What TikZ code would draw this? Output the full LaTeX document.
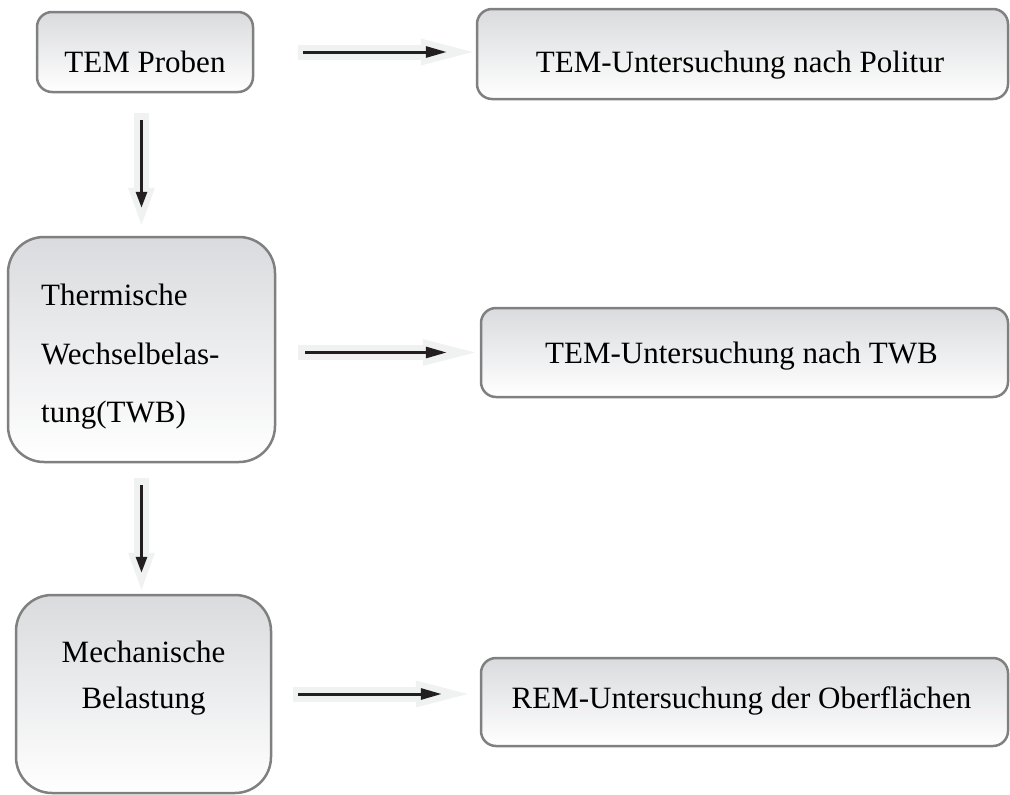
\documentclass[tikz,border=0pt]{standalone}
\usepackage{fontspec}
\setmainfont{Liberation Serif}
\usetikzlibrary{arrows.meta}

\definecolor{boxedge}{RGB}{128,128,128}
\definecolor{boxtop}{RGB}{218,219,222}
\definecolor{glowgrey}{RGB}{240,241,241}
\definecolor{ink}{RGB}{35,31,32}

\begin{document}
\begin{tikzpicture}[x=1pt, y=-1pt,
	box/.style={draw=boxedge, line width=2.5pt, top color=boxtop, bottom color=white},
	txt/.style={font=\fontsize{31}{37}\selectfont, inner sep=0pt},
	backarrow/.style={draw=glowgrey, line width=15pt, -{Triangle[length=#1, width=27pt, line width=0pt]}},
	frontarrow/.style={draw=ink, line width=3pt, -{Triangle[length=#1, width=11pt]}}]
\useasboundingbox (0,0) rectangle (1010,795);

% boxes: name/x/y/width/height/radius
\foreach \n/\x/\y/\w/\h/\rad in {
	probe/145/52/216/80/15,polish/742.5/54/531/90/15%
	,twb/141.5/349.5/267/225/36,temtwb/744.5/352.5/527/89/15%
	,mech/143.5/694/255/198/36,rem/744.5/702/527/88/15%
}{
	\node[box, rounded corners=\rad pt, minimum width=\w pt, minimum height=\h pt] (\n) at (\x,\y) {};
}

% texts: name/x/y/anchor/text
\foreach \n/\x/\y/\a/\t in {
	probetxt/145/72/base/TEM Proben,polishtxt/740/72/base/TEM-Untersuchung nach Politur%
	,twbA/41/305/base west/Thermische,twbB/41/364/base west/Wechselbelas-,twbC/41/422/base west/tung(TWB)%
	,temtwbtxt/741.5/363/base/TEM-Untersuchung nach TWB%
	,mechA/143.5/662/base/Mechanische,mechB/143.5/708/base/Belastung%
	,remtxt/741.5/708/base/REM-Untersuchung der Oberflächen%
}{
	\node[txt, anchor=\a] (\n) at (\x,\y) {\t};
}

% arrows
\draw[backarrow=37pt, shorten <=20pt, shorten >=11pt] (probe.south -| twb.north) -- (twb.north);
\draw[frontarrow=16pt, shorten <=27pt, shorten >=28pt] (probe.south -| twb.north) -- (twb.north);
\draw[backarrow=37pt, shorten <=15pt, shorten >=4pt] (twb.south) -- (twb.south |- mech.north);
\draw[frontarrow=16pt, shorten <=22pt, shorten >=21pt] (twb.south) -- (twb.south |- mech.north);

\draw[backarrow=52pt, shorten <=44pt, shorten >=3pt] (probe.east) -- (probe.east -| polish.west);
\draw[frontarrow=21pt, shorten <=49pt, shorten >=29pt] (probe.east) -- (probe.east -| polish.west);
\draw[backarrow=52pt, shorten <=22pt, shorten >=5pt] (temtwb.west -| twb.east) -- (temtwb.west);
\draw[frontarrow=21pt, shorten <=29pt, shorten >=33pt] (temtwb.west -| twb.east) -- (temtwb.west);
\draw[backarrow=52pt, shorten <=21pt, shorten >=12pt] (mech.east) -- (mech.east -| rem.west);
\draw[frontarrow=21pt, shorten <=26pt, shorten >=38pt] (mech.east) -- (mech.east -| rem.west);
\end{tikzpicture}
\end{document}
